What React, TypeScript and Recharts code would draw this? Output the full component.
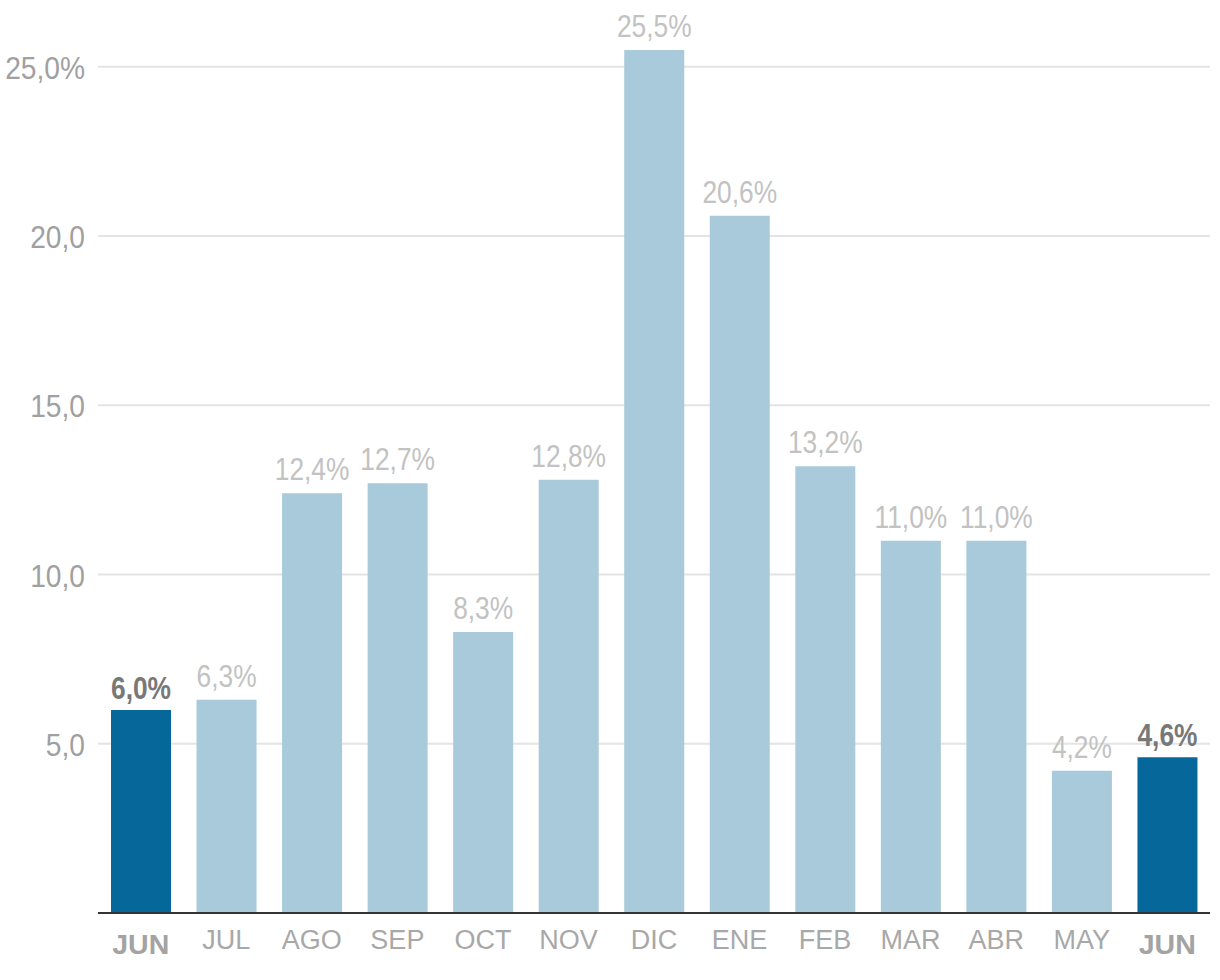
import { BarChart, Bar, XAxis, YAxis, CartesianGrid, Cell, LabelList } from 'recharts';

// month labels, one per bar (first and last are the highlighted June bars)
const MONTHS = ['JUN', 'JUL', 'AGO', 'SEP', 'OCT', 'NOV', 'DIC', 'ENE', 'FEB', 'MAR', 'ABR', 'MAY', 'JUN'];
const VALUES = [6.0, 6.3, 12.4, 12.7, 8.3, 12.8, 25.5, 20.6, 13.2, 11.0, 11.0, 4.2, 4.6];
const HIGHLIGHT = [true, false, false, false, false, false, false, false, false, false, false, false, true];
const Y_TICKS = [5, 10, 15, 20, 25];

const FONT = '"Liberation Sans", Arial, sans-serif';
const LIGHT = '#a8cadb';
const DARK = '#06689a';
// numbers in the original use a condensed face; squeeze them horizontally
const SQUEEZE = 0.85;

const data = MONTHS.map((m, i) => ({ id: `m${i}`, month: m, value: VALUES[i], hl: HIGHLIGHT[i] }));

const fmt = (v: number) => v.toFixed(1).replace('.', ',');

function MonthTick(props: any) {
  const { x, y, payload } = props;
  const i = payload.index;
  const hl = HIGHLIGHT[i];
  return (
    <text
      x={x}
      y={hl ? y + 4 : y}
      dy="0.71em"
      textAnchor="middle"
      fill={hl ? '#a3a3a3' : '#a8a8a8'}
      fontFamily={FONT}
      fontSize={hl ? 28.5 : 27}
      fontWeight={hl ? 700 : 400}
    >
      {MONTHS[i]}
    </text>
  );
}

function PctTick(props: any) {
  const { x, y, payload } = props;
  const v = payload.value;
  return (
    <g transform={`translate(${x},${y + 12}) scale(0.88,1)`}>
      <text x={0} y={0} textAnchor="end" fill="#a0a0a0" fontFamily={FONT} fontSize={32}>
        {v === 25 ? fmt(v) + '%' : fmt(v)}
      </text>
    </g>
  );
}

function ValueLabel(props: any) {
  const { x, y, width, value, index } = props;
  const hl = HIGHLIGHT[index];
  return (
    <g transform={`translate(${x + width / 2},${y - (hl ? 11 : 13)}) scale(${SQUEEZE},1)`}>
      <text
        x={0}
        y={0}
        textAnchor="middle"
        fill={hl ? '#787878' : '#c2c2c2'}
        fontFamily={FONT}
        fontSize={31}
        fontWeight={hl ? 700 : 400}
      >
        {fmt(value) + '%'}
      </text>
    </g>
  );
}

export default function App() {
  return (
    <div style={{ position: 'absolute', left: 0, top: 0, background: '#fff' }}>
      <BarChart width={1220} height={980} data={data} margin={{ top: 33, right: 10, bottom: 0, left: 0 }}>
        <CartesianGrid vertical={false} stroke="#e4e4e4" strokeWidth={2} horizontalValues={Y_TICKS} />
        <XAxis
          dataKey="id"
          height={67}
          axisLine={{ stroke: '#333', strokeWidth: 2 }}
          tickLine={false}
          tickSize={0}
          tickMargin={17}
          tick={<MonthTick />}
          interval={0}
        />
        <YAxis
          width={98}
          domain={[0, 26]}
          ticks={Y_TICKS}
          axisLine={false}
          tickLine={false}
          tickSize={0}
          tickMargin={13}
          tick={<PctTick />}
        />
        <Bar dataKey="value" barSize={60} isAnimationActive={false}>
          {data.map((d) => (
            <Cell key={d.id} fill={d.hl ? DARK : LIGHT} />
          ))}
          <LabelList dataKey="value" content={<ValueLabel />} />
        </Bar>
      </BarChart>
    </div>
  );
}
